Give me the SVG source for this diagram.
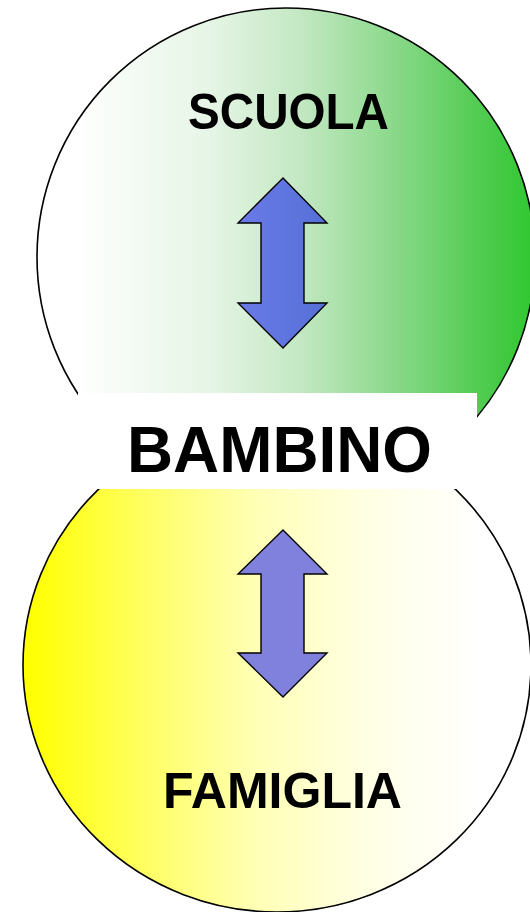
<svg xmlns="http://www.w3.org/2000/svg" width="530" height="912" viewBox="0 0 530 912">
  <style>
    .ring { stroke: #000; stroke-width: 1.6; }
    .arrow { stroke: #000; stroke-width: 1.4; stroke-linejoin: miter; }
    .lbl { font-family: "Liberation Sans", Arial, sans-serif; font-weight: bold; fill: #000; }
  </style>
  <defs>
    <linearGradient id="gGreen" gradientUnits="userSpaceOnUse" x1="72" y1="0" x2="528" y2="0">
      <stop offset="0" stop-color="#ffffff"/>
      <stop offset="0.3" stop-color="#e6f5e6"/>
      <stop offset="0.5" stop-color="#c3e8c3"/>
      <stop offset="0.7" stop-color="#8cd98c"/>
      <stop offset="0.87" stop-color="#58cd58"/>
      <stop offset="1" stop-color="#33c833"/>
    </linearGradient>
    <linearGradient id="gYellow" gradientUnits="userSpaceOnUse" x1="28" y1="0" x2="480" y2="0">
      <stop offset="0" stop-color="#ffff00"/>
      <stop offset="0.25" stop-color="#ffff60"/>
      <stop offset="0.5" stop-color="#ffffb4"/>
      <stop offset="0.75" stop-color="#ffffe4"/>
      <stop offset="1" stop-color="#ffffff"/>
    </linearGradient>
    <linearGradient id="gBlue" gradientUnits="userSpaceOnUse" x1="238" y1="0" x2="327" y2="0">
      <stop offset="0" stop-color="#6a7ae8"/>
      <stop offset="1" stop-color="#5570d6"/>
    </linearGradient>
  </defs>

  <g id="scuola">
    <circle class="ring" cx="286" cy="257" r="249" fill="url(#gGreen)"/>
    <text class="lbl" x="188" y="129" font-size="50" textLength="201" lengthAdjust="spacingAndGlyphs">SCUOLA</text>
  </g>

  <g id="famiglia">
    <ellipse class="ring" cx="277" cy="665" rx="254" ry="247" fill="url(#gYellow)"/>
    <text class="lbl" x="163" y="808" font-size="50" textLength="239" lengthAdjust="spacingAndGlyphs">FAMIGLIA</text>
  </g>

  <g id="bambino">
    <rect x="78" y="393" width="399" height="96" fill="#ffffff"/>
    <text class="lbl" x="127" y="472" font-size="65" textLength="305" lengthAdjust="spacingAndGlyphs">BAMBINO</text>
  </g>

  <g id="connectors">
    <polygon class="arrow" fill="url(#gBlue)" points="283,178 327,223 304,223 304,303 327,303 283,348 238,303 261,303 261,223 238,223"/>
    <polygon class="arrow" fill="#8080dd" points="283,530 327,574 304,574 304,653 327,653 283,697 238,653 261,653 261,574 238,574"/>
  </g>
</svg>
